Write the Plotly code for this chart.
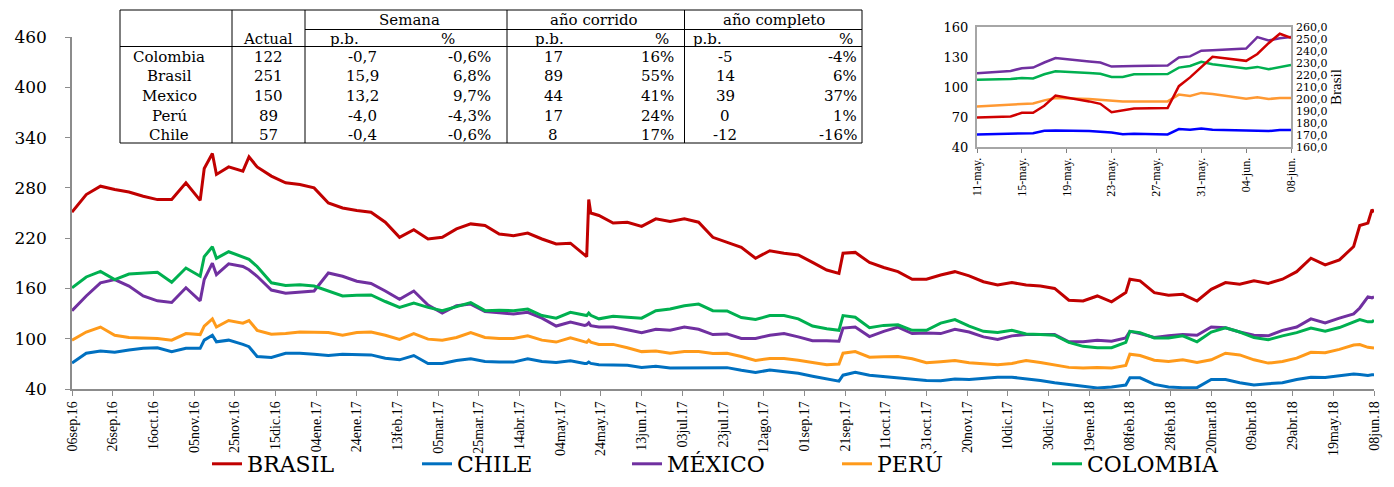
import plotly.graph_objects as go

# ---------------- main chart data ----------------
dates = [
    "2016-09-06", "2016-09-13", "2016-09-20", "2016-09-27", "2016-10-04", "2016-10-11",
    "2016-10-18", "2016-10-25", "2016-11-01", "2016-11-08", "2016-11-10", "2016-11-14",
    "2016-11-16", "2016-11-22", "2016-11-29", "2016-12-02", "2016-12-06", "2016-12-13",
    "2016-12-20", "2016-12-27", "2017-01-03", "2017-01-10", "2017-01-17", "2017-01-24",
    "2017-01-31", "2017-02-07", "2017-02-14", "2017-02-21", "2017-02-28", "2017-03-07",
    "2017-03-14", "2017-03-21", "2017-03-28", "2017-04-04", "2017-04-11", "2017-04-18",
    "2017-04-25", "2017-05-02", "2017-05-09", "2017-05-16", "2017-05-17", "2017-05-18",
    "2017-05-19", "2017-05-23", "2017-05-30", "2017-06-06", "2017-06-13", "2017-06-20",
    "2017-06-27", "2017-07-04", "2017-07-11", "2017-07-18", "2017-07-25", "2017-08-01",
    "2017-08-08", "2017-08-15", "2017-08-22", "2017-08-29", "2017-09-05", "2017-09-12",
    "2017-09-18", "2017-09-20", "2017-09-26", "2017-10-03", "2017-10-10", "2017-10-17",
    "2017-10-24", "2017-10-31", "2017-11-07", "2017-11-14", "2017-11-21", "2017-11-28",
    "2017-12-05", "2017-12-12", "2017-12-19", "2017-12-26", "2018-01-02", "2018-01-09",
    "2018-01-16", "2018-01-23", "2018-01-30", "2018-02-06", "2018-02-08", "2018-02-13",
    "2018-02-20", "2018-02-27", "2018-03-06", "2018-03-13", "2018-03-20", "2018-03-27",
    "2018-04-03", "2018-04-10", "2018-04-17", "2018-04-24", "2018-05-01", "2018-05-08",
    "2018-05-15", "2018-05-22", "2018-05-29", "2018-06-01", "2018-06-05", "2018-06-07",
    "2018-06-08",
]

brasil = [
    251, 272, 282, 278, 275, 270, 266, 266, 286, 265, 303, 321,
    296, 305, 300, 317, 305, 294, 286, 284, 280, 262, 256, 253,
    251, 239, 221, 230, 219, 221, 231, 237, 235, 225, 223, 226,
    219, 213, 214, 199, 198, 266, 250, 247, 238, 239, 234, 243,
    240, 243, 239, 221, 215, 209, 196, 205, 202, 200, 191, 182,
    178, 202, 203, 191, 185, 180, 171, 171, 176, 180, 175, 168,
    164, 167, 164, 163, 160, 146, 145, 151, 144, 155, 171, 169,
    155, 152, 153, 145, 159, 167, 165, 169, 166, 171, 180, 196,
    188, 194, 210, 235, 238, 254, 251,
]

chile = [
    70.9, 82.7, 85.4, 83.8, 86.6, 88.5, 89.3, 84.6, 88.5, 88.5, 98.3, 104.2,
    96.3, 98.3, 93.2, 90.5, 78.7, 77.6, 82.7, 82.7, 81.5, 79.9, 81.5, 81.5,
    80.7, 76.8, 74.8, 79.9, 70.5, 70.5, 74.0, 76.0, 72.9, 72.1, 72.1, 76.0,
    72.9, 71.7, 73.7, 70.5, 70.5, 72.1, 70.5, 69.0, 68.6, 68.2, 65.8, 67.0,
    65.1, 65.1, 65.1, 64.7, 65.5, 62.3, 59.6, 62.7, 60.4, 58.8, 55.3, 52.2,
    49.4, 56.5, 60.0, 56.5, 54.9, 54.1, 52.2, 50.2, 49.8, 51.8, 51.4, 52.6,
    54.1, 54.1, 52.6, 50.2, 47.5, 45.5, 43.6, 41.2, 42.4, 44.7, 53.3, 53.3,
    45.5, 42.4, 41.6, 41.6, 51.4, 51.4, 47.5, 44.7, 46.3, 47.5, 51.4, 54.1,
    53.8, 55.5, 57.9, 57.2, 56.2, 56.9, 57.0,
]

mexico = [
    133.4, 151.0, 166.7, 170.6, 162.8, 151.0, 145.2, 143.2, 160.8, 145.2, 170.6, 190.1,
    176.4, 189.3, 186.2, 182.3, 174.5, 158.1, 154.2, 155.3, 156.9, 178.4, 174.5, 168.6,
    165.9, 156.9, 147.1, 156.9, 140.1, 130.7, 139.3, 141.3, 132.3, 131.0, 129.5, 131.5,
    124.5, 115.1, 119.8, 115.9, 116.6, 119.0, 115.5, 113.9, 113.9, 110.8, 107.3, 111.2,
    110.0, 113.9, 111.2, 104.9, 105.7, 100.2, 100.2, 104.2, 106.1, 102.2, 97.5, 97.5,
    97.1, 112.7, 113.9, 102.6, 108.8, 113.9, 106.1, 106.9, 106.1, 111.2, 108.0, 102.2,
    99.1, 103.4, 104.9, 104.9, 104.9, 96.3, 96.3, 98.3, 97.1, 101.0, 108.8, 106.1,
    101.4, 103.4, 104.9, 104.2, 113.9, 113.1, 108.0, 104.2, 103.4, 110.0, 113.9, 123.7,
    118.8, 124.5, 129.6, 136.7, 149.9, 148.8, 150.0,
]

peru = [
    98.3, 108.0, 113.9, 104.2, 101.4, 101.0, 100.2, 98.3, 106.1, 104.9, 115.1, 123.7,
    113.9, 121.7, 118.6, 121.7, 110.0, 105.3, 106.1, 108.0, 107.3, 107.3, 104.2, 107.3,
    108.0, 104.2, 99.1, 106.1, 99.5, 98.3, 101.4, 107.3, 101.4, 100.2, 100.2, 103.4,
    98.3, 96.0, 101.0, 95.6, 95.6, 98.3, 96.0, 93.2, 93.2, 89.3, 84.6, 85.4,
    82.7, 84.6, 84.6, 82.3, 82.7, 78.7, 74.0, 76.4, 76.4, 74.4, 71.7, 69.0,
    69.8, 82.7, 84.6, 78.0, 78.4, 78.7, 76.0, 71.3, 72.5, 74.0, 71.3, 69.8,
    69.0, 70.5, 74.0, 71.7, 69.0, 65.8, 65.1, 65.8, 65.1, 68.2, 81.5, 79.9,
    74.4, 72.9, 74.8, 71.7, 74.8, 82.7, 80.7, 74.8, 70.9, 72.9, 76.8, 83.8,
    83.3, 87.3, 92.4, 93.1, 89.7, 89.0, 89.0,
]

colombia = [
    160.8, 173.7, 180.3, 170.6, 177.2, 178.4, 179.2, 167.4, 184.3, 174.5, 197.9, 209.7,
    196.0, 203.8, 197.9, 194.8, 186.2, 166.7, 163.5, 164.3, 162.8, 156.9, 151.0, 151.8,
    152.2, 144.4, 137.4, 142.4, 137.4, 133.5, 138.5, 143.2, 133.5, 134.0, 133.5, 135.4,
    127.6, 124.5, 131.5, 127.6, 127.6, 130.7, 128.0, 123.7, 126.8, 125.6, 124.5, 133.5,
    135.4, 139.3, 141.3, 133.5, 133.1, 125.3, 122.9, 127.6, 127.6, 123.7, 115.1, 112.0,
    110.0, 127.6, 125.6, 113.1, 115.9, 116.6, 110.0, 110.0, 118.6, 122.9, 115.1, 108.8,
    107.3, 110.0, 105.7, 104.9, 104.2, 95.6, 90.9, 89.3, 89.3, 95.6, 108.8, 107.3,
    101.0, 101.0, 103.4, 96.3, 108.0, 113.1, 108.0, 101.4, 98.7, 103.4, 107.3, 112.7,
    109.0, 113.3, 119.4, 122.8, 120.1, 120.1, 122.0,
]

tick_dates = [
    "2016-09-06", "2016-09-26", "2016-10-16", "2016-11-05", "2016-11-25", "2016-12-15",
    "2017-01-04", "2017-01-24", "2017-02-13", "2017-03-05", "2017-03-25", "2017-04-14",
    "2017-05-04", "2017-05-24", "2017-06-13", "2017-07-03", "2017-07-23", "2017-08-12",
    "2017-09-01", "2017-09-21", "2017-10-11", "2017-10-31", "2017-11-20", "2017-12-10",
    "2017-12-30", "2018-01-19", "2018-02-08", "2018-02-28", "2018-03-20", "2018-04-09",
    "2018-04-29", "2018-05-19", "2018-06-08",
]
tick_labels = [
    "06sep.16", "26sep.16", "16oct.16", "05nov.16", "25nov.16", "15dic.16",
    "04ene.17", "24ene.17", "13feb.17", "05mar.17", "25mar.17", "14abr.17",
    "04may.17", "24may.17", "13jun.17", "03jul.17", "23jul.17", "12ago.17",
    "01sep.17", "21sep.17", "11oct.17", "31oct.17", "20nov.17", "10dic.17",
    "30dic.17", "19ene.18", "08feb.18", "28feb.18", "20mar.18", "09abr.18",
    "29abr.18", "19may.18", "08jun.18",
]
y_ticks = [40, 100, 160, 220, 280, 340, 400, 460]

# ---------------- inset data ----------------
inset_dates = [
    "2018-05-11", "2018-05-14", "2018-05-15", "2018-05-16", "2018-05-17", "2018-05-18",
    "2018-05-21", "2018-05-22", "2018-05-23", "2018-05-24", "2018-05-25", "2018-05-28",
    "2018-05-29", "2018-05-30", "2018-05-31", "2018-06-01", "2018-06-04", "2018-06-05",
    "2018-06-06", "2018-06-07", "2018-06-08",
]
inset_brasil = [184.5, 185.4, 188.5, 188.5, 194.4, 202.8, 198.0, 196.0, 189.0, 190.4, 192.1,
                192.4, 210.7, 218.0, 226.2, 235.2, 231.8, 237.5, 246.5, 254.4, 251.0]
inset_mexico = [113.7, 116.0, 118.8, 119.4, 124.5, 128.9, 125.5, 124.5, 120.4, 120.8, 121.0,
                121.5, 129.6, 130.6, 136.3, 136.7, 138.4, 149.9, 146.5, 148.8, 150.0]
inset_colombia = [107.3, 107.9, 109.0, 108.6, 112.7, 115.7, 114.0, 113.3, 110.0, 110.0, 112.7,
                  113.0, 119.4, 121.0, 125.2, 122.8, 118.4, 120.1, 117.7, 120.1, 122.0]
inset_peru = [80.6, 82.2, 83.3, 83.6, 86.6, 89.0, 88.0, 87.3, 85.9, 85.6, 85.6,
              85.6, 92.4, 91.0, 94.1, 93.1, 88.3, 89.7, 88.0, 89.0, 89.0]
inset_chile = [52.5, 53.2, 53.8, 53.8, 56.2, 56.6, 55.9, 55.5, 54.5, 52.8, 53.2,
               52.5, 57.9, 57.2, 58.6, 57.2, 55.9, 56.2, 55.9, 56.9, 57.0]
inset_tick_dates = ["2018-05-11", "2018-05-15", "2018-05-19", "2018-05-23",
                    "2018-05-27", "2018-05-31", "2018-06-04", "2018-06-08"]
inset_tick_labels = ["11-may.", "15-may.", "19-may.", "23-may.",
                     "27-may.", "31-may.", "04-jun.", "08-jun."]
inset_left_ticks = [40, 70, 100, 130, 160]
inset_right_ticks = [160, 170, 180, 190, 200, 210, 220, 230, 240, 250, 260]
inset_right_labels = ["160,0", "170,0", "180,0", "190,0", "200,0", "210,0",
                      "220,0", "230,0", "240,0", "250,0", "260,0"]

# ---------------- table data ----------------
tbl_countries = ["Colombia", "Brasil", "Mexico", "Perú", "Chile"]
tbl_actual = ["122", "251", "150", "89", "57"]
tbl_sem_pb = ["-0,7", "15,9", "13,2", "-4,0", "-0,4"]
tbl_sem_pct = ["-0,6%", "6,8%", "9,7%", "-4,3%", "-0,6%"]
tbl_ac_pb = ["17", "89", "44", "17", "8"]
tbl_ac_pct = ["16%", "55%", "41%", "24%", "17%"]
tbl_comp_pb = ["-5", "14", "39", "0", "-12"]
tbl_comp_pct = ["-4%", "6%", "37%", "1%", "-16%"]

# ---------------- layout helpers (page pixel coordinates) ----------------
OFF = 8                      # default page margin around the plot div
W, H = 1394 - 2 * OFF, 487 - 2 * OFF
ML, MR, MT, MB = 64, 12, 2, 90
PW, PH = W - ML - MR, H - MT - MB


def px(x):
    return (x - OFF - ML) / PW


def py(y):
    return (H - MB - (y - OFF)) / PH


SERIF = "DejaVu Serif"
TIMES = "Liberation Serif"
AX_GRAY = "#8c8c8c"

fig = go.Figure()

main_series = [
    ("BRASIL", brasil, "#C00000"),
    ("CHILE", chile, "#0070C0"),
    ("MÉXICO", mexico, "#7030A0"),
    ("PERÚ", peru, "#FF9A1A"),
    ("COLOMBIA", colombia, "#00B050"),
]
for name, vals, col in main_series:
    fig.add_trace(go.Scatter(x=dates, y=vals, mode="lines", name=name,
                             line=dict(color=col, width=3), xaxis="x", yaxis="y"))

inset_series = [
    (inset_mexico, "#7030A0", "y2"),
    (inset_colombia, "#00B050", "y2"),
    (inset_peru, "#FF9933", "y2"),
    (inset_chile, "#0000FF", "y2"),
    (inset_brasil, "#D00000", "y3"),
]
for vals, col, ya in inset_series:
    fig.add_trace(go.Scatter(x=inset_dates, y=vals, mode="lines", showlegend=False,
                             line=dict(color=col, width=2.5), xaxis="x2", yaxis=ya))

# ---------------- table (annotations + shapes) ----------------
ann = []
shapes = []
TF = dict(family=SERIF, size=15, color="black")


def txt(x, y, s, xanchor="center"):
    ann.append(dict(x=px(x), y=py(y), xref="paper", yref="paper", text=s,
                    showarrow=False, font=TF, xanchor=xanchor, yanchor="middle"))


def line(x0, y0, x1, y1, color="black", width=1):
    shapes.append(dict(type="line", xref="paper", yref="paper",
                       x0=px(x0), y0=py(y0), x1=px(x1), y1=py(y1),
                       line=dict(color=color, width=width)))


shapes.append(dict(type="rect", xref="paper", yref="paper",
                   x0=px(120), x1=px(862), y0=py(143), y1=py(10),
                   line=dict(color="black", width=1), fillcolor="white", layer="above"))
for xv in [232, 305, 507, 684.5]:
    line(xv, 10, xv, 143)
line(305, 29.5, 862, 29.5)
line(120, 46.5, 862, 46.5)

txt(409, 20, "Semana")
txt(594, 20, "año corrido")
txt(774, 20, "año completo")
txt(268, 38.5, "Actual")
txt(344, 38.5, "p.b.")
txt(448, 38.5, "%")
txt(549, 38.5, "p.b.")
txt(662, 38.5, "%")
txt(707, 38.5, "p.b.")
txt(846, 38.5, "%")

row_y = [57, 76.5, 96, 115.5, 135]
for i, yv in enumerate(row_y):
    txt(169, yv, tbl_countries[i])
    txt(268, yv, tbl_actual[i])
    txt(362, yv, tbl_sem_pb[i])
    txt(493, yv, tbl_sem_pct[i], "right")
    txt(553, yv, tbl_ac_pb[i])
    txt(676, yv, tbl_ac_pct[i], "right")
    txt(725, yv, tbl_comp_pb[i])
    txt(859, yv, tbl_comp_pct[i], "right")

fig.update_layout(
    width=W, height=H,
    margin=dict(l=ML, r=MR, t=MT, b=MB, autoexpand=False),
    paper_bgcolor="white", plot_bgcolor="white",
    font=dict(family=SERIF, color="black"),
    showlegend=True,
    legend=dict(orientation="h", x=px(732), xanchor="center", y=py(464), yanchor="middle",
                font=dict(family=SERIF, size=22, color="black"),
                entrywidth=165, entrywidthmode="pixels", itemwidth=30,
                borderwidth=0, bgcolor="rgba(0,0,0,0)"),
    xaxis=dict(type="date", domain=[0, 1], range=["2016-09-06", "2018-06-08"],
               tickmode="array", tickvals=tick_dates, ticktext=tick_labels,
               tickangle=-90, tickfont=dict(family=TIMES, size=14, color="black"),
               ticks="outside", ticklen=5, tickcolor=AX_GRAY,
               showline=True, linecolor=AX_GRAY, linewidth=1.5,
               showgrid=False, zeroline=False, anchor="y"),
    yaxis=dict(domain=[0, py(37)], range=[40, 460], tickmode="array", tickvals=y_ticks,
               tickfont=dict(family=SERIF, size=17, color="black"),
               ticks="outside", ticklen=5, tickcolor=AX_GRAY,
               showline=True, linecolor=AX_GRAY, linewidth=1.5,
               showgrid=False, zeroline=False, anchor="x", ticklabelstandoff=15),
    xaxis2=dict(type="date", domain=[px(977), px(1291)], range=["2018-05-11", "2018-06-08"],
                tickmode="array", tickvals=inset_tick_dates, ticktext=inset_tick_labels,
                tickangle=-90, tickfont=dict(family=TIMES, size=12, color="black"),
                ticks="outside", ticklen=4, tickcolor="#7f7f7f",
                showline=True, linecolor="#a6a6a6", linewidth=2, mirror=True,
                showgrid=False, zeroline=False, anchor="y2"),
    yaxis2=dict(domain=[py(147), py(27)], range=[40, 160], tickmode="array",
                tickvals=inset_left_ticks, tickfont=dict(family=SERIF, size=13, color="black"),
                showline=True, linecolor="#a6a6a6", linewidth=2, mirror=True,
                ticks="", showgrid=False, zeroline=False, anchor="x2", ticklabelstandoff=4),
    yaxis3=dict(overlaying="y2", side="right", range=[160, 260], tickmode="array",
                tickvals=inset_right_ticks, ticktext=inset_right_labels,
                tickfont=dict(family=SERIF, size=11, color="black"),
                showline=False, ticks="", showgrid=False, zeroline=False, anchor="x2",
                ticklabelstandoff=4,
                title=dict(text="Brasil", font=dict(family=TIMES, size=15, color="black"),
                           standoff=2)),
    annotations=ann,
    shapes=shapes,
)

fig.write_html("out.html")
